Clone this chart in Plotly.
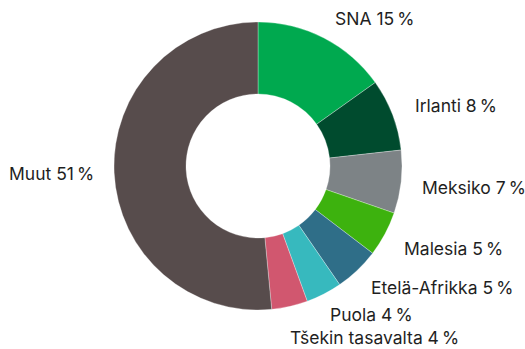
import plotly.graph_objects as go

# Share by country
countries = ["SNA", "Irlanti", "Meksiko", "Malesia", "Etelä-Afrikka", "Puola", "Tšekin tasavalta", "Muut"]
shares = [15, 8, 7, 5, 5, 4, 4, 51]
colors = ["#00A94F", "#004B2E", "#7D8386", "#3DB20E", "#2F6E88", "#37B9BE", "#D1576F", "#574C4C"]

# Label anchor points (paper coords, left edge / vertical middle)
label_x = [0.634, 0.787, 0.800, 0.766, 0.703, 0.625, 0.549, 0.013]
label_y = [0.946, 0.697, 0.464, 0.289, 0.175, 0.100, 0.034, 0.504]

fig = go.Figure(go.Pie(
    labels=countries,
    values=shares,
    hole=0.5,
    sort=False,
    direction="clockwise",
    rotation=0,
    marker=dict(colors=colors, line=dict(color="rgba(255,255,255,0.6)", width=0.5)),
    textinfo="none",
    hoverinfo="label+percent",
    showlegend=False,
    domain=dict(x=[114 / 525, 402 / 525], y=[39 / 349, 327 / 349]),
))

for name, val, x, y in zip(countries, shares, label_x, label_y):
    fig.add_annotation(
        text=f"{name} {val}\u2009%",
        x=x, y=y, xref="paper", yref="paper",
        xanchor="left", yanchor="middle",
        showarrow=False,
        font=dict(family="Inter", size=17.5, color="#1f1f1f"),
    )

fig.update_layout(
    width=525, height=349,
    margin=dict(l=0, r=0, t=0, b=0),
    paper_bgcolor="white",
    plot_bgcolor="white",
)

fig.write_html("out.html")
